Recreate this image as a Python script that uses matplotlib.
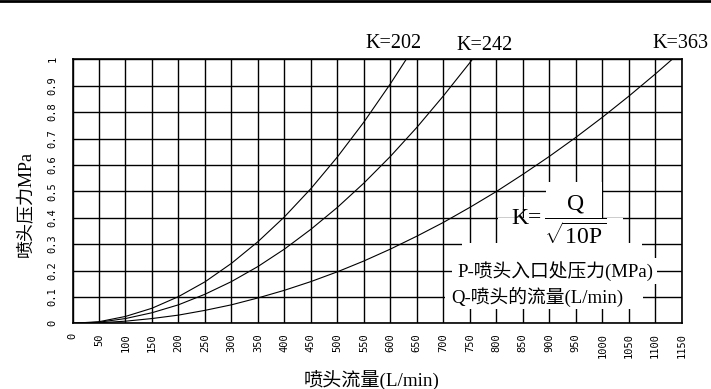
import matplotlib
matplotlib.use("Agg")
import matplotlib.pyplot as plt
from matplotlib.patches import Rectangle

# ---- data ----
q_k202 = [0, 50, 100, 150, 200, 250, 300, 350, 400, 450, 500, 550, 600, 630]
p_k202 = [0, 0.006, 0.026, 0.057, 0.101, 0.157, 0.227, 0.309, 0.403, 0.510, 0.630, 0.762, 0.907, 1.0]

q_k242 = [0, 50, 100, 150, 200, 250, 300, 350, 400, 450, 500, 550, 600, 650, 700, 750, 755]
p_k242 = [0, 0.004, 0.018, 0.040, 0.070, 0.110, 0.158, 0.215, 0.281, 0.356, 0.439, 0.531,
          0.632, 0.742, 0.861, 0.987, 1.0]

q_k363 = [0, 50, 100, 150, 200, 250, 300, 350, 400, 450, 500, 550, 600, 650, 700, 750,
          800, 850, 900, 950, 1000, 1050, 1100, 1132]
p_k363 = [0, 0.002, 0.008, 0.018, 0.031, 0.049, 0.070, 0.096, 0.125, 0.158, 0.195, 0.236,
          0.281, 0.330, 0.382, 0.439, 0.499, 0.564, 0.632, 0.704, 0.780, 0.860, 0.944, 1.0]

curve_labels = ["K=202", "K=242", "K=363"]
x_ticks = list(range(0, 1151, 50))
y_ticks = [0, 0.1, 0.2, 0.3, 0.4, 0.5, 0.6, 0.7, 0.8, 0.9, 1.0]
y_tick_labels = ["0", "0.1", "0.2", "0.3", "0.4", "0.5", "0.6", "0.7", "0.8", "0.9", "1"]
x_label = "喷头流量(L/min)"
y_label = "喷头压力MPa"
legend_lines = ["P-喷头入口处压力(MPa)", "Q-喷头的流量(L/min)"]

W, H = 711, 389
MIX = ["Liberation Serif", "Noto Sans CJK SC", "DejaVu Sans"]

def fx(px):
    return px / W

def fy(py):
    return 1 - py / H

plt.rcParams["mathtext.fontset"] = "custom"
plt.rcParams["mathtext.rm"] = "Liberation Serif"
plt.rcParams["mathtext.it"] = "Liberation Serif"

fig = plt.figure(figsize=(W / 100, H / 100), dpi=100)
fig.patch.set_facecolor("white")
ax = fig.add_axes([fx(72.5), fy(323.3), (681.7 - 72.5) / W, (323.3 - 59.3) / H])

ax.set_xlim(0, 1150)
ax.set_ylim(0, 1)
ax.set_xticks(x_ticks)
ax.set_xticklabels([str(v) for v in x_ticks], rotation=90, family="DejaVu Sans Mono", fontsize=7.5)
ax.set_yticks(y_ticks)
ax.set_yticklabels(y_tick_labels, rotation=90, va="center", family="DejaVu Sans Mono", fontsize=7.5)
ax.tick_params(axis="x", length=0, pad=7)
ax.tick_params(axis="y", length=0, pad=11)
ax.set_axisbelow(True)
ax.grid(True, color="black", linewidth=1.0)
for s in ax.spines.values():
    s.set_color("black")
    s.set_linewidth(1.2)

for q, p in [(q_k202, p_k202), (q_k242, p_k242), (q_k363, p_k363)]:
    ax.plot(q, p, color="black", linewidth=0.8, zorder=2)

# white areas behind the formula text
for (x0, y0, x1, y1) in [(546, 182, 602, 218), (524, 197, 602, 218), (498, 218, 623, 243),
                         (462, 243, 642, 258), (452, 258, 657, 284), (445, 284, 643, 309)]:
    ax.add_patch(Rectangle((fx(x0), fy(y1)), (x1 - x0) / W, (y1 - y0) / H,
                           transform=fig.transFigure, facecolor="white", edgecolor="none",
                           zorder=3, clip_on=False))

# curve labels
for lab, px, py in zip(curve_labels, [393, 485, 680], [44, 46, 44]):
    fig.text(fx(px), fy(py), lab, ha="center", va="center", family="Liberation Serif", fontsize=14.5)

# formula
fig.text(fx(542), fy(219), "K=", ha="right", va="center", family="Liberation Serif",
         fontsize=17, zorder=5)
fig.text(fx(544), fy(220), r"$\dfrac{\mathrm{Q}}{\sqrt{\mathrm{10P}}}$",
         ha="left", va="center", fontsize=17, zorder=5)
fig.text(fx(457), fy(271), legend_lines[0], ha="left", va="center", family=MIX, fontsize=13.5)
fig.text(fx(451), fy(297), legend_lines[1], ha="left", va="center", family=MIX, fontsize=13.5)

# axis labels
fig.text(fx(372), fy(380), x_label, ha="center", va="center", family=MIX, fontsize=13.8)
fig.text(fx(25), fy(204), y_label, ha="center", va="center", rotation=90, family=MIX, fontsize=13)

# top border line
fig.add_artist(plt.Line2D([0, 1], [fy(1), fy(1)], color="black", linewidth=2.0,
                          transform=fig.transFigure))

fig.savefig("out.png", dpi=100, facecolor="white")
